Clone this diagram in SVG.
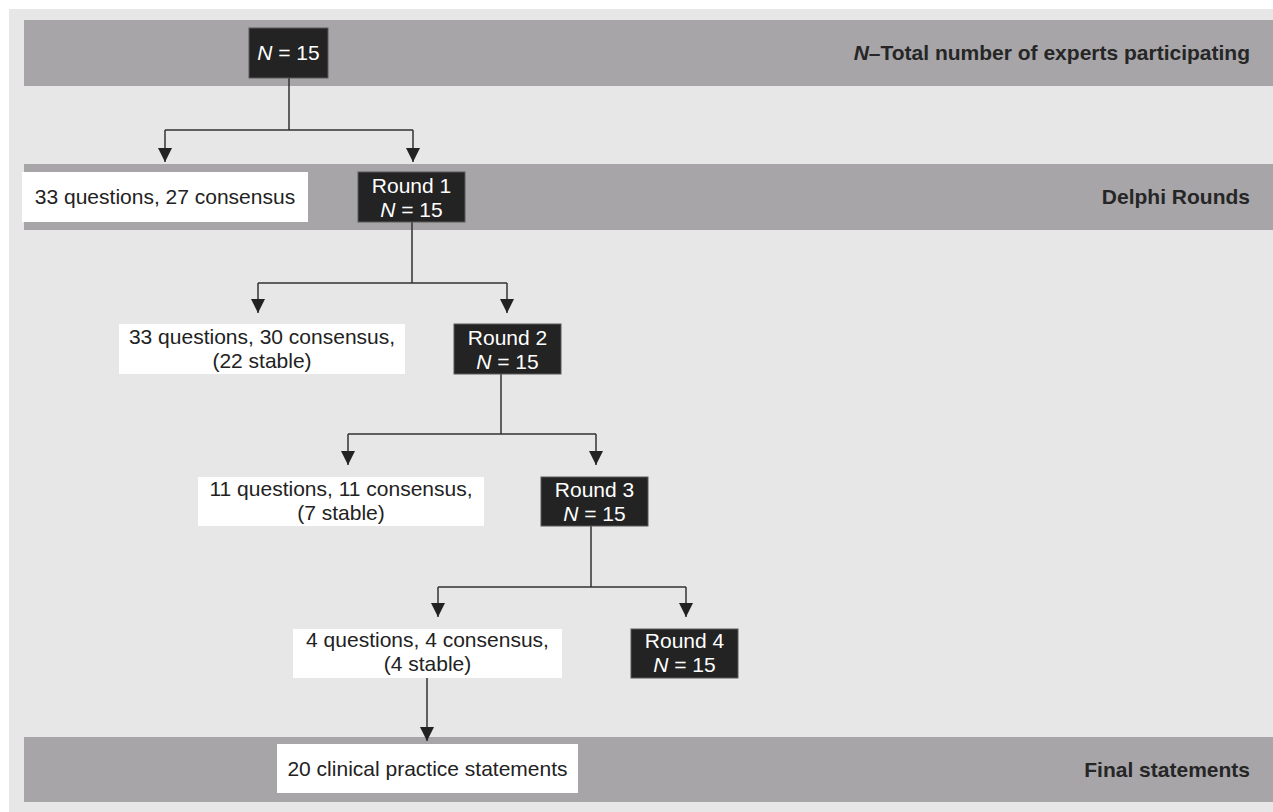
<svg xmlns="http://www.w3.org/2000/svg" width="1273" height="812" viewBox="0 0 1273 812">
<style>
.panel{fill:#e6e7e6}
.band{fill:#a7a5a8}
.dark{fill:#232323;stroke:#5a5a5a;stroke-width:1}
.white{fill:#ffffff}
.t{font-family:"Liberation Sans",Arial,sans-serif;font-size:21px;text-anchor:middle}
.tw{fill:#ffffff}
.tb{fill:#222222}
.lab{font-family:"Liberation Sans",Arial,sans-serif;font-size:21px;font-weight:bold;fill:#262626;text-anchor:end}
.i{font-style:italic}
.conn{fill:none;stroke:#333333;stroke-width:1.5}
</style>
<defs>
<marker id="arr" markerUnits="userSpaceOnUse" markerWidth="15" markerHeight="15" refX="14" refY="7" orient="auto" viewBox="0 0 15 15">
<path d="M0,0 L14,7 L0,14 z" fill="#222222"/>
</marker>
</defs>
<rect class="panel" x="9" y="9" width="1264" height="803"/>
<g id="bands">
<rect class="band" x="24" y="20" width="1249" height="66"/>
<rect class="band" x="24" y="164" width="1249" height="66"/>
<rect class="band" x="24" y="737" width="1249" height="65"/>
<text class="lab" x="1250" y="60"><tspan class="i">N</tspan>–Total number of experts participating</text>
<text class="lab" x="1250" y="204">Delphi Rounds</text>
<text class="lab" x="1250" y="777">Final statements</text>
</g>
<g id="connectors">
<path class="conn" d="M289,78 V130 M165,130 H413"/>
<path class="conn" d="M165,130 V162" marker-end="url(#arr)"/>
<path class="conn" d="M413,130 V162" marker-end="url(#arr)"/>
<path class="conn" d="M412,222 V283 M258,283 H507"/>
<path class="conn" d="M258,283 V313" marker-end="url(#arr)"/>
<path class="conn" d="M507,283 V313" marker-end="url(#arr)"/>
<path class="conn" d="M501,374 V434 M348,434 H596"/>
<path class="conn" d="M348,434 V465" marker-end="url(#arr)"/>
<path class="conn" d="M596,434 V465" marker-end="url(#arr)"/>
<path class="conn" d="M591,526 V587 M438,587 H686"/>
<path class="conn" d="M438,587 V617" marker-end="url(#arr)"/>
<path class="conn" d="M686,587 V617" marker-end="url(#arr)"/>
<path class="conn" d="M427,678 V741" marker-end="url(#arr)"/>
</g>
<g id="n-total">
<rect class="dark" x="249" y="28" width="79" height="50"/>
<text class="t tw" x="288.5" y="60"><tspan class="i">N</tspan> = 15</text>
</g>
<g id="r1-result">
<rect class="white" x="22" y="172" width="286" height="50"/>
<text class="t tb" x="165" y="204">33 questions, 27 consensus</text>
</g>
<g id="round1">
<rect class="dark" x="358" y="172" width="107" height="50"/>
<text class="t tw" x="411.5" y="193">Round 1</text>
<text class="t tw" x="411.5" y="217"><tspan class="i">N</tspan> = 15</text>
</g>
<g id="r2-result">
<rect class="white" x="119" y="324" width="286" height="50"/>
<text class="t tb" x="262" y="344">33 questions, 30 consensus,</text>
<text class="t tb" x="262" y="368">(22 stable)</text>
</g>
<g id="round2">
<rect class="dark" x="454" y="324" width="107" height="50"/>
<text class="t tw" x="507.5" y="345">Round 2</text>
<text class="t tw" x="507.5" y="369"><tspan class="i">N</tspan> = 15</text>
</g>
<g id="r3-result">
<rect class="white" x="198" y="477" width="286" height="49"/>
<text class="t tb" x="341" y="496">11 questions, 11 consensus,</text>
<text class="t tb" x="341" y="520">(7 stable)</text>
</g>
<g id="round3">
<rect class="dark" x="541" y="477" width="107" height="49"/>
<text class="t tw" x="594.5" y="497">Round 3</text>
<text class="t tw" x="594.5" y="521"><tspan class="i">N</tspan> = 15</text>
</g>
<g id="r4-result">
<rect class="white" x="293" y="629" width="269" height="49"/>
<text class="t tb" x="427.5" y="647">4 questions, 4 consensus,</text>
<text class="t tb" x="427.5" y="671">(4 stable)</text>
</g>
<g id="round4">
<rect class="dark" x="631" y="629" width="107" height="49"/>
<text class="t tw" x="684.5" y="648">Round 4</text>
<text class="t tw" x="684.5" y="672"><tspan class="i">N</tspan> = 15</text>
</g>
<g id="final">
<rect class="white" x="277" y="744" width="301" height="49"/>
<text class="t tb" x="427.5" y="776">20 clinical practice statements</text>
</g>
</svg>
